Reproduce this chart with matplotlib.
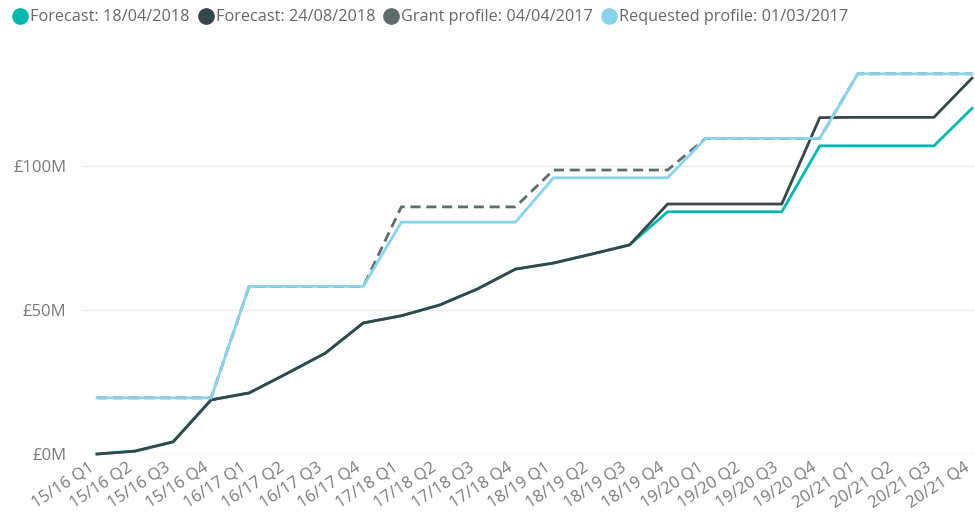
import matplotlib
matplotlib.use("Agg")
import matplotlib.pyplot as plt
from matplotlib.lines import Line2D

quarters = ["15/16 Q1", "15/16 Q2", "15/16 Q3", "15/16 Q4",
            "16/17 Q1", "16/17 Q2", "16/17 Q3", "16/17 Q4",
            "17/18 Q1", "17/18 Q2", "17/18 Q3", "17/18 Q4",
            "18/19 Q1", "18/19 Q2", "18/19 Q3", "18/19 Q4",
            "19/20 Q1", "19/20 Q2", "19/20 Q3", "19/20 Q4",
            "20/21 Q1", "20/21 Q2", "20/21 Q3", "20/21 Q4"]

forecast_apr2018 = [0, 1.0, 4.2, 18.8, 21.2, 28.0, 35.0, 45.5,
                    48.0, 51.7, 57.3, 64.2, 66.3, 69.4, 72.6, 84.1,
                    84.1, 84.1, 84.1, 107.0, 107.0, 107.0, 107.0, 120.0]

forecast_aug2018 = [0, 1.0, 4.2, 18.8, 21.2, 28.0, 35.0, 45.5,
                    48.0, 51.7, 57.3, 64.2, 66.3, 69.4, 72.6, 86.8,
                    86.8, 86.8, 86.8, 116.8, 116.9, 116.9, 116.9, 130.5]

grant_profile = [19.5, 19.5, 19.5, 19.5, 58.2, 58.2, 58.2, 58.2,
                 85.8, 85.8, 85.8, 85.8, 98.6, 98.6, 98.6, 98.6,
                 109.6, 109.6, 109.6, 109.6, 132.0, 132.0, 132.0, 132.0]

requested_profile = [19.5, 19.5, 19.5, 19.5, 58.2, 58.2, 58.2, 58.2,
                     80.5, 80.5, 80.5, 80.5, 95.9, 95.9, 95.9, 95.9,
                     109.6, 109.6, 109.6, 109.6, 132.0, 132.0, 132.0, 132.0]

series_names = ["Forecast: 18/04/2018", "Forecast: 24/08/2018",
                "Grant profile: 04/04/2017", "Requested profile: 01/03/2017"]
y_ticks = [0, 50, 100]
y_tick_labels = ["£0M", "£50M", "£100M"]

colors = ["#01B8AA", "#374649", "#5F6B6D", "#8AD4EB"]
styles = ["-", "-", (0, (3.6, 2.1)), "-"]
text_color = "#7A7A7A"

plt.rcParams["font.family"] = ["Open Sans", "DejaVu Sans"]

fig = plt.figure(figsize=(9.75, 5.13), dpi=100)
ax = fig.add_axes([83 / 975, 59 / 513, 1 - 83 / 975, (454 - 50.8) / 513])

x = list(range(len(quarters)))
for data, c, ls in zip([forecast_apr2018, forecast_aug2018, grant_profile, requested_profile],
                       colors, styles):
    ax.plot(x, data, color=c, linestyle=ls, linewidth=2.0, solid_joinstyle="miter",
            clip_on=False)

ax.set_xlim(-0.368, len(quarters) - 1 + 0.08)
ax.set_ylim(0, 140)
ax.set_yticks(y_ticks)
ax.set_yticklabels(y_tick_labels, color=text_color, fontsize=12)
ax.set_xticks(x)
ax.set_xticklabels(quarters, rotation=33, ha="right", va="top",
                   color=text_color, fontsize=12)
ax.tick_params(axis="both", length=0)
ax.tick_params(axis="y", pad=12)
ax.tick_params(axis="x", pad=4)
ax.grid(axis="y", color="#EAEAEA", linewidth=1)
ax.set_axisbelow(True)
for s in ax.spines.values():
    s.set_visible(False)

handles = [Line2D([], [], marker="o", linestyle="none", markersize=11,
                  markerfacecolor=c, markeredgecolor=c) for c in colors]
fig.legend(handles, series_names, loc="upper left", bbox_to_anchor=(0.0, 1.007),
           ncol=4, frameon=False, fontsize=11.7, labelcolor="#666666",
           handlelength=0.9, handletextpad=0.15, columnspacing=0.55,
           borderaxespad=0.4, borderpad=0.4)

fig.savefig("out.png", dpi=100, facecolor="white")
